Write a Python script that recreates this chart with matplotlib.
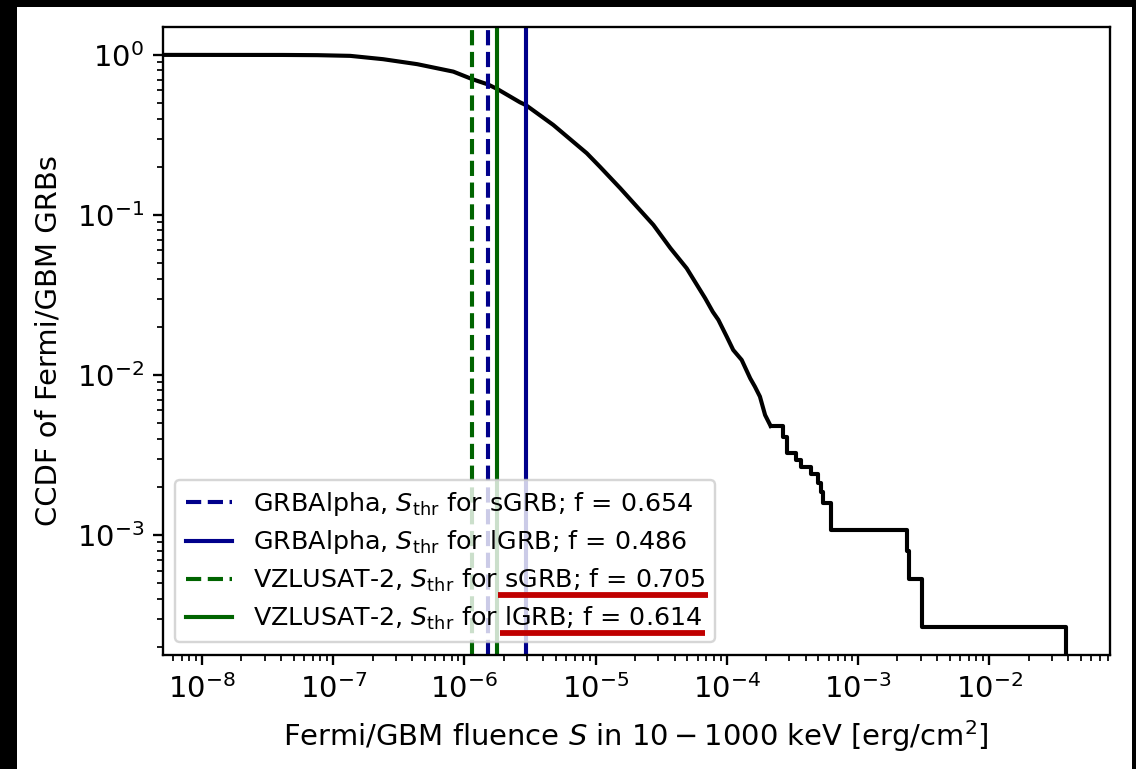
import matplotlib
matplotlib.use("Agg")
import matplotlib.pyplot as plt
from matplotlib.patches import Rectangle
from matplotlib.lines import Line2D

# ---- data ----
# smooth part of the CCDF (fluence in erg/cm^2, CCDF fraction)
smooth_S = [3.0e-9, 4.17e-8, 7.59e-8, 1.35e-7, 2.40e-7, 4.37e-7, 8.24e-7, 1.15e-6,
            1.51e-6, 1.77e-6, 2.66e-6, 2.94e-6, 4.76e-6, 8.57e-6, 1.08e-5, 1.54e-5,
            2.76e-5, 3.72e-5, 4.95e-5, 6.84e-5, 7.83e-5, 8.63e-5, 1.00e-4, 1.12e-4,
            1.30e-4, 1.51e-4, 1.64e-4, 1.79e-4, 1.96e-4, 2.16e-4]
smooth_C = [1.0, 0.999, 0.996, 0.986, 0.940, 0.875, 0.786, 0.705,
            0.654, 0.614, 0.505, 0.486, 0.365, 0.243, 0.200, 0.147,
            0.0866, 0.062, 0.0464, 0.0302, 0.0248, 0.0221, 0.01735, 0.01433,
            0.01241, 0.00952, 0.00845, 0.00733, 0.00562, 0.0048]
# stepped tail (steps-post)
tail_S = [2.16e-4, 2.67e-4, 2.90e-4, 3.38e-4, 3.66e-4, 4.39e-4, 4.99e-4, 5.20e-4,
          5.45e-4, 6.24e-4, 2.38e-3, 2.47e-3, 3.08e-3, 3.84e-2]
tail_C = [0.0048, 0.00411, 0.00324, 0.00294, 0.00267, 0.0024, 0.0021, 0.00187,
          0.00159, 0.00107, 0.0008, 0.000533, 0.000267, 1e-9]

# detection thresholds
thr_labels = ["GRBAlpha, $S_\\mathrm{thr}$ for sGRB; f = 0.654",
              "GRBAlpha, $S_\\mathrm{thr}$ for lGRB; f = 0.486",
              "VZLUSAT-2, $S_\\mathrm{thr}$ for sGRB; f = 0.705",
              "VZLUSAT-2, $S_\\mathrm{thr}$ for lGRB; f = 0.614"]
thr_values = [1.51e-6, 2.94e-6, 1.15e-6, 1.77e-6]
thr_colors = ["darkblue", "darkblue", "darkgreen", "darkgreen"]
thr_styles = ["--", "-", "--", "-"]
underlined_suffix = [None, None, "sGRB; f = 0.705", "lGRB; f = 0.614"]

# ---- style ----
plt.rcParams.update({
    "font.size": 12,
    "axes.linewidth": 0.96,
    "xtick.major.size": 4.2, "ytick.major.size": 4.2,
    "xtick.minor.size": 2.4, "ytick.minor.size": 2.4,
    "xtick.major.width": 0.96, "ytick.major.width": 0.96,
    "xtick.minor.width": 0.72, "ytick.minor.width": 0.72,
    "xtick.labelsize": 12, "ytick.labelsize": 12,
    "axes.labelsize": 12,
})

# ---- figure ----
W, H, DPI = 1136, 769, 174
fig = plt.figure(figsize=(W / DPI, H / DPI), dpi=DPI)
fig.patch.set_facecolor("black")
fig.add_artist(Rectangle((17 / W, 0), (1132 - 17) / W, (H - 7) / H,
                         transform=fig.transFigure, facecolor="white",
                         edgecolor="none", zorder=-5))

ax = fig.add_axes([162.7 / W, 1 - 655 / H, (1110 - 162.7) / W, (655 - 26.7) / H])

ax.plot(smooth_S, smooth_C, color="black", lw=1.7)
ax.step(tail_S, tail_C, where="post", color="black", lw=1.7)

for v, lab, c, ls in zip(thr_values, thr_labels, thr_colors, thr_styles):
    ax.axvline(v, color=c, ls=ls, lw=1.7, label=lab)

ax.set_xscale("log")
ax.set_yscale("log")
ax.set_xlim(5.02e-9, 8.34e-2)
ax.set_ylim(1.78e-4, 1.50)
ax.set_xlabel("Fermi/GBM fluence $S$ in $10-1000$ keV [erg/cm$^2$]", labelpad=6)
ax.set_ylabel("CCDF of Fermi/GBM GRBs", labelpad=6)

leg = ax.legend(loc="lower left", fontsize=10.5, handlelength=1.85,
                labelspacing=0.42)

# red underlines under part of the last two legend entries
fig.canvas.draw()
renderer = fig.canvas.get_renderer()
inv = fig.transFigure.inverted()
for txt, suffix in zip(leg.get_texts(), underlined_suffix):
    if suffix is None:
        continue
    bb = txt.get_window_extent(renderer)
    sw, _, _ = renderer.get_text_width_height_descent(
        suffix, txt.get_fontproperties(), ismath=False)
    x0 = bb.x1 - sw - 4
    x1 = bb.x1 + 3
    y = bb.y0 - 1
    (fx0, fy), (fx1, _) = inv.transform([(x0, y), (x1, y)])
    fig.add_artist(Line2D([fx0, fx1], [fy, fy], transform=fig.transFigure,
                          color="#c00000", lw=2.4, solid_capstyle="butt", zorder=10))

fig.savefig("out.png", dpi=DPI)
